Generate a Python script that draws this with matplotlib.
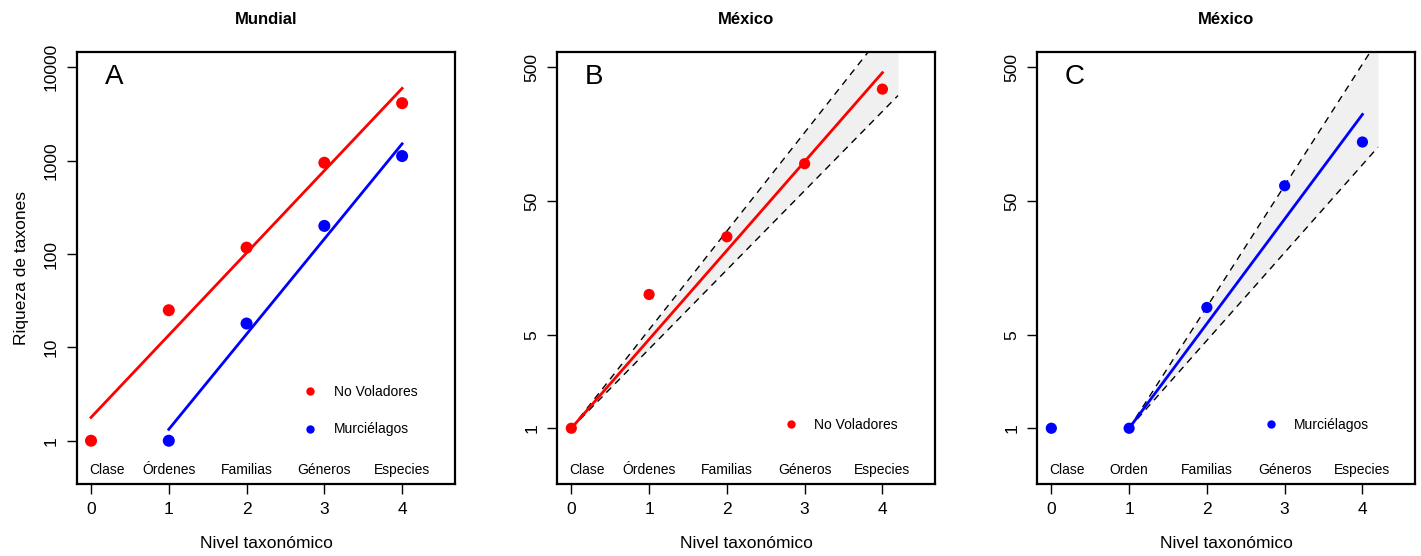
import matplotlib
matplotlib.use("Agg")
import matplotlib.pyplot as plt
from matplotlib.lines import Line2D
import numpy as np

plt.rcParams['font.family'] = ['Liberation Sans', 'DejaVu Sans']

# datos
niveles = np.array([0, 1, 2, 3, 4])
mundial_no_voladores = np.array([1, 25, 117, 950, 4130])
niveles_murc = np.array([1, 2, 3, 4])
mundial_murcielagos = np.array([1, 18, 200, 1120])
mexico_no_voladores = np.array([1, 10, 27, 95, 343])
mexico_murcielagos = np.array([1, 1, 8, 65, 138])

etiquetas_A = ["Clase", "Órdenes", "Familias", "Géneros", "Especies"]
etiquetas_C = ["Clase", "Orden", "Familias", "Géneros", "Especies"]
pos_etiquetas = [0.2, 1, 2, 3, 4]

# cuantiles t (una cola, 0.95) por grados de libertad
t_q = {2: 2.920, 3: 2.353, 4: 2.132}

ROJO = "#FF0000"
AZUL = "#0000FF"


def ajuste_origen(x, y, x0):
    """Regresion de log10(y) sobre (x - x0) pasando por (x0, 0)."""
    xx = x - x0
    ly = np.log10(y)
    b = np.sum(xx * ly) / np.sum(xx ** 2)
    res = ly - b * xx
    df = len(x) - 1
    se = np.sqrt(np.sum(res ** 2) / df) / np.sqrt(np.sum(xx ** 2))
    return b, se * t_q[df]


def estilo(ax, ylim, yticks, etiquetas, titulo, letra):
    ax.set_yscale('log')
    ax.set_xlim(-0.18, 4.68)
    ax.set_ylim(*ylim)
    ax.set_xticks(niveles)
    ax.set_yticks(yticks)
    ax.set_yticklabels([str(t) for t in yticks], rotation=90, va='center')
    ax.minorticks_off()
    ax.tick_params(labelsize=12.5, length=7, width=1, direction='out', pad=6)
    for s in ax.spines.values():
        s.set_linewidth(1.6)
    ax.set_title(titulo, fontsize=12, fontweight='bold', pad=20)
    ax.set_xlabel("Nivel taxonómico", fontsize=12.5, labelpad=14)
    ax.text(0.073, 0.942, letra, transform=ax.transAxes, fontsize=20,
            ha='left', va='center')
    for xp, lab in zip(pos_etiquetas, etiquetas):
        ax.text(xp, 0.485, lab, fontsize=10, ha='center', va='center')


fig = plt.figure(figsize=(14.21, 5.56), dpi=100)
axA = fig.add_axes([0.0542, 0.1295, 0.266, 0.777])
axB = fig.add_axes([0.3922, 0.1295, 0.266, 0.777])
axC = fig.add_axes([0.7300, 0.1295, 0.266, 0.777])

# Panel A
for x, y, c, x0 in [(niveles, mundial_no_voladores, ROJO, 0),
                    (niveles_murc, mundial_murcielagos, AZUL, 1)]:
    a, b = np.polyfit(x, np.log10(y), 1)
    xl = np.array([x0, 4])
    axA.plot(xl, 10 ** (a * xl + b), color=c, lw=2)
    axA.scatter(x, y, s=75, color=c, zorder=3, edgecolors='none')
estilo(axA, (0.344, 14590), [1, 10, 100, 1000, 10000], etiquetas_A, "Mundial", "A")
axA.set_ylabel("Riqueza de taxones", fontsize=12.5, labelpad=11)
hA = [Line2D([], [], ls='none', marker='o', ms=5, color=ROJO),
      Line2D([], [], ls='none', marker='o', ms=5, color=AZUL)]
axA.legend(hA, ["No Voladores", "Murciélagos"], loc='center left',
           bbox_to_anchor=(0.566, 0.17), frameon=False, fontsize=10,
           labelspacing=1.7, handletextpad=1.2, handlelength=1)

# Paneles B y C
for ax, y, c, x0, etiq, lab in [(axB, mexico_no_voladores, ROJO, 0, etiquetas_A, "No Voladores"),
                                (axC, mexico_murcielagos, AZUL, 1, etiquetas_C, "Murciélagos")]:
    msk = niveles >= x0
    b, hw = ajuste_origen(niveles[msk], y[msk], x0)
    xb = np.array([x0, 4.2])
    ax.fill_between(xb, 10 ** ((b - hw) * (xb - x0)), 10 ** ((b + hw) * (xb - x0)),
                    color='#F0F0F0', lw=0, zorder=0)
    ax.plot(xb, 10 ** ((b + hw) * (xb - x0)), color='black', lw=1, ls=(0, (5, 4)))
    ax.plot(xb, 10 ** ((b - hw) * (xb - x0)), color='black', lw=1, ls=(0, (5, 4)))
    xl = np.array([x0, 4])
    ax.plot(xl, 10 ** (b * (xl - x0)), color=c, lw=2)
    ax.scatter(niveles, y, s=65, color=c, zorder=3, edgecolors='none')
    estilo(ax, (0.383, 650), [1, 5, 50, 500], etiq, "México", "BC"[ax is axC])
    h = [Line2D([], [], ls='none', marker='o', ms=5, color=c)]
    ax.legend(h, [lab], loc='center left', bbox_to_anchor=(0.566, 0.137),
              frameon=False, fontsize=10, handletextpad=1.2, handlelength=1)

fig.savefig("out.png", dpi=100)
